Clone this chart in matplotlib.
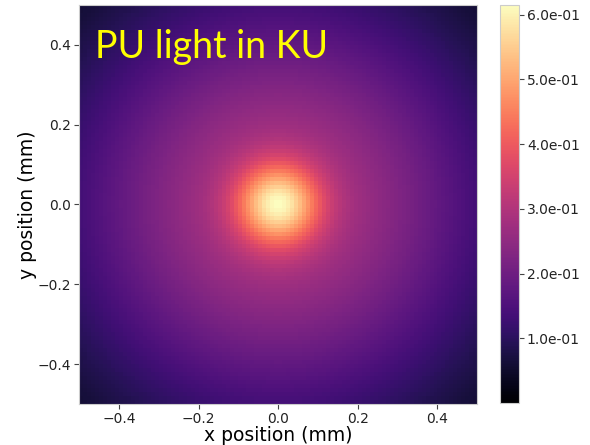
import numpy as np
import matplotlib
matplotlib.use('Agg')
import matplotlib.pyplot as plt

# grid in mm
n_pix = 100
x_edges = np.linspace(-0.5, 0.5, n_pix + 1)
y_edges = np.linspace(-0.5, 0.5, n_pix + 1)

# estimated profile parameters
core_amp = 0.31
core_sigma = 0.07
halo_amp = 0.305
halo_sigma = 0.39
v_min = 0.0
v_max = 0.615
cbar_ticks = [0.1, 0.2, 0.3, 0.4, 0.5, 0.6]


def run_main():
    xc = 0.5 * (x_edges[1:] + x_edges[:-1])
    yc = 0.5 * (y_edges[1:] + y_edges[:-1])
    X, Y = np.meshgrid(xc, yc)
    r2 = X ** 2 + Y ** 2
    Z = (core_amp * np.exp(-r2 / (2 * core_sigma ** 2))
         + halo_amp * np.exp(-r2 / (2 * halo_sigma ** 2)))

    fig = plt.figure(figsize=(5.9, 4.45), dpi=100)
    ax = fig.add_axes([0.134, 0.092, 0.675, 0.897])
    cax = fig.add_axes([0.848, 0.094, 0.032, 0.895])

    mesh = ax.pcolormesh(x_edges, y_edges, Z, cmap='magma',
                         vmin=v_min, vmax=v_max, shading='flat')
    ax.set_xlim(-0.5, 0.5)
    ax.set_ylim(-0.5, 0.5)
    ax.set_xticks([-0.4, -0.2, 0.0, 0.2, 0.4])
    ax.set_yticks([-0.4, -0.2, 0.0, 0.2, 0.4])
    ax.tick_params(labelsize=10, color='#444444', labelcolor='#222222',
                   pad=2)
    ax.set_xlabel('x position (mm)', fontsize=13.5, labelpad=0)
    ax.set_ylabel('y position (mm)', fontsize=13.5, labelpad=1)
    for s in ax.spines.values():
        s.set_color('#cccccc')

    ax.text(0.04, 0.94, 'PU light in KU', transform=ax.transAxes,
            color='yellow', fontsize=27, family=['Lato', 'DejaVu Sans'],
            va='top', ha='left')

    cb = fig.colorbar(mesh, cax=cax, ticks=cbar_ticks, format='%.1e')
    cb.ax.tick_params(labelsize=10, color='#444444', labelcolor='#222222',
                      pad=2)
    cb.outline.set_edgecolor('#cccccc')

    fig.savefig('out.png', dpi=100)


if __name__ == "__main__":
    run_main()
